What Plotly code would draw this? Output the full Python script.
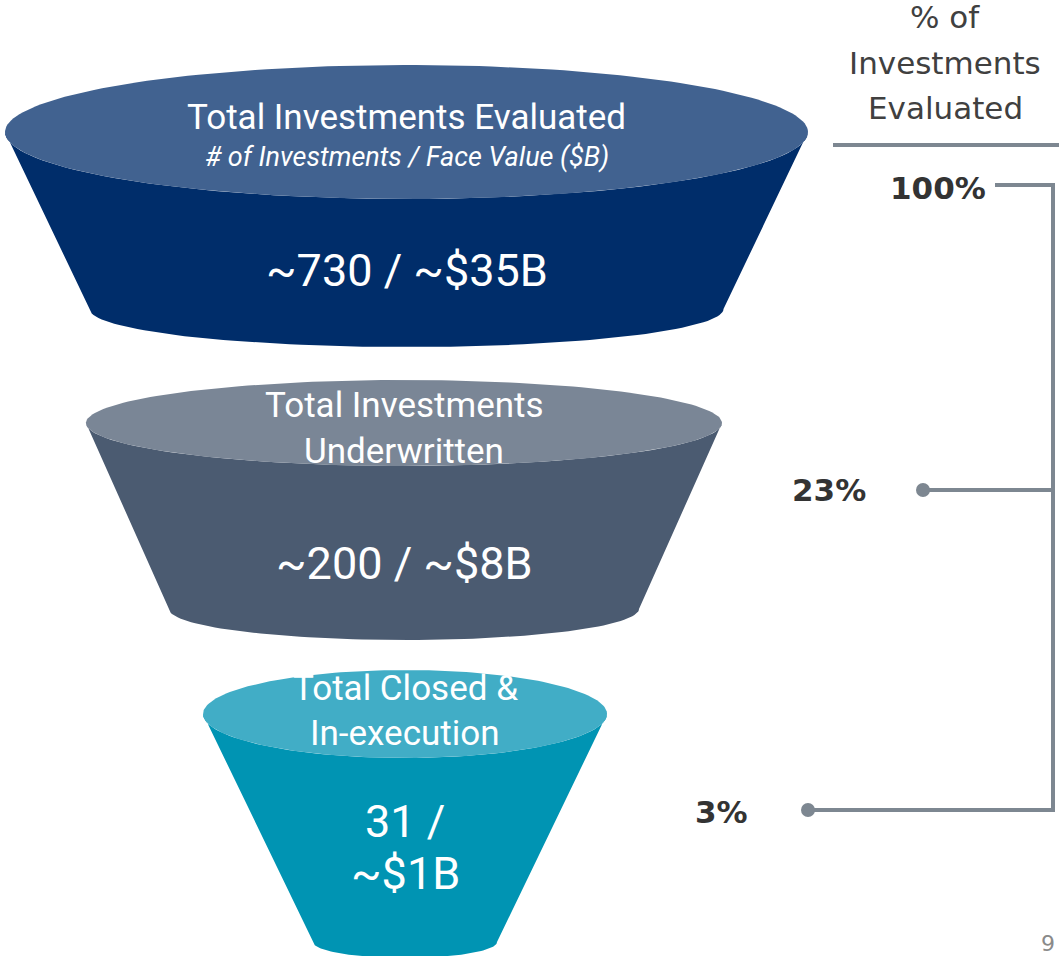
import numpy as np
import plotly.graph_objects as go

# Funnel stages (top to bottom)
stage_titles = [["Total Investments Evaluated"],
                ["Total Investments", "Underwritten"],
                ["Total Closed &", "In-execution"]]
stage_counts = ["~730", "~200", "31"]
stage_values = ["~$35B", "~$8B", "~$1B"]
stage_pct = ["100%", "23%", "3%"]
subtitle = "# of Investments / Face Value ($B)"
pct_header = ["% of", "Investments", "Evaluated"]
page_number = "9"

# geometry of each funnel piece (pixels in a 1059 x 956 canvas)
shapes_geo = [
    dict(cx=406.5, ty=132, trx=401.5, try_=67, by=309, brx=317, bry=38),
    dict(cx=404, ty=423, trx=318, try_=43, by=609, brx=235, bry=31),
    dict(cx=405, ty=714, trx=202, try_=44, by=942, brx=92, bry=16),
]
body_colors = ["#002d6a", "#4b5b71", "#0094b3"]
lid_colors = ["#416290", "#7a8696", "#41adc6"]

grey = "#7d8791"
dark = "#333333"

fig = go.Figure()

for g, bc, lc in zip(shapes_geo, body_colors, lid_colors):
    # body: left side down, bottom arc, right side up, lower half of lid back
    t_bot = np.linspace(np.pi, 0, 80)
    bx = g["cx"] + g["brx"] * np.cos(t_bot)
    by = g["by"] + g["bry"] * np.sin(t_bot)
    t_lid = np.linspace(0, np.pi, 80)
    lx = g["cx"] + g["trx"] * np.cos(t_lid)
    ly = g["ty"] + g["try_"] * np.sin(t_lid)
    xs = np.concatenate([[g["cx"] - g["trx"]], bx, [g["cx"] + g["trx"]], lx])
    ys = np.concatenate([[g["ty"]], by, [g["ty"]], ly])
    fig.add_trace(go.Scatter(x=xs, y=ys, fill="toself", fillcolor=bc, mode="lines",
                             line=dict(width=0, color=bc), hoverinfo="skip"))
    # lid
    t = np.linspace(0, 2 * np.pi, 200)
    fig.add_trace(go.Scatter(x=g["cx"] + g["trx"] * np.cos(t), y=g["ty"] + g["try_"] * np.sin(t),
                             fill="toself", fillcolor=lc, mode="lines",
                             line=dict(width=0, color=lc), hoverinfo="skip"))

font_main = "Roboto"
annotations = []
title_y = [[117], [405, 451], [688, 733]]
value_y = [[270], [563], [821, 873]]
for i, g in enumerate(shapes_geo):
    for line, ty in zip(stage_titles[i], title_y[i]):
        annotations.append(dict(x=g["cx"], y=ty, text=line, showarrow=False,
                                font=dict(family=font_main, size=35, color="white"),
                                xanchor="center", yanchor="middle"))
    if i < 2:
        vals = [f"{stage_counts[i]} / {stage_values[i]}"]
    else:
        vals = [f"{stage_counts[i]} /", stage_values[i]]
    for v, vy in zip(vals, value_y[i]):
        annotations.append(dict(x=g["cx"], y=vy, text=v, showarrow=False,
                                font=dict(family=font_main, size=45, color="white"),
                                xanchor="center", yanchor="middle"))

annotations.append(dict(x=406.5, y=157, text=f"<i>{subtitle}</i>", showarrow=False,
                        font=dict(family=font_main, size=27, color="white"),
                        xanchor="center", yanchor="middle"))

# right-hand percentage column
for line, hy in zip(pct_header, [17, 63, 108]):
    annotations.append(dict(x=945, y=hy, text=line, showarrow=False,
                            font=dict(family="DejaVu Sans", size=31, color="#404040"),
                            xanchor="center", yanchor="middle"))
pct_x = [988, 868, 750]
pct_y = [188, 490, 812]
for px, py, p in zip(pct_x, pct_y, stage_pct):
    annotations.append(dict(x=px, y=py, text=f"<b>{p}</b>", showarrow=False,
                            font=dict(family="DejaVu Sans", size=31, color=dark),
                            xanchor="right", yanchor="middle"))
annotations.append(dict(x=1057, y=943, text=page_number, showarrow=False,
                        font=dict(family="DejaVu Sans", size=22, color="#8a8a8a"),
                        xanchor="right", yanchor="middle"))

# header rule
fig.add_trace(go.Scatter(x=[833, 1059], y=[145, 145], mode="lines",
                         line=dict(color=grey, width=4), hoverinfo="skip"))
# bracket
brk_x = 1053
fig.add_trace(go.Scatter(x=[995, brk_x, brk_x, 808], y=[185, 185, 810, 810], mode="lines",
                         line=dict(color=grey, width=4), hoverinfo="skip"))
fig.add_trace(go.Scatter(x=[brk_x, 923], y=[490, 490], mode="lines",
                         line=dict(color=grey, width=4), hoverinfo="skip"))
fig.add_trace(go.Scatter(x=[923, 808], y=[490, 810], mode="markers",
                         marker=dict(color=grey, size=14), hoverinfo="skip"))

fig.update_xaxes(range=[0, 1059], visible=False, fixedrange=True)
fig.update_yaxes(range=[956, 0], visible=False, fixedrange=True)
fig.update_layout(width=1059, height=956, margin=dict(l=0, r=0, t=0, b=0),
                  plot_bgcolor="white", paper_bgcolor="white", showlegend=False,
                  annotations=annotations)

fig.write_html("out.html", config={"displayModeBar": False},
               post_script="document.body.style.margin='0';")
